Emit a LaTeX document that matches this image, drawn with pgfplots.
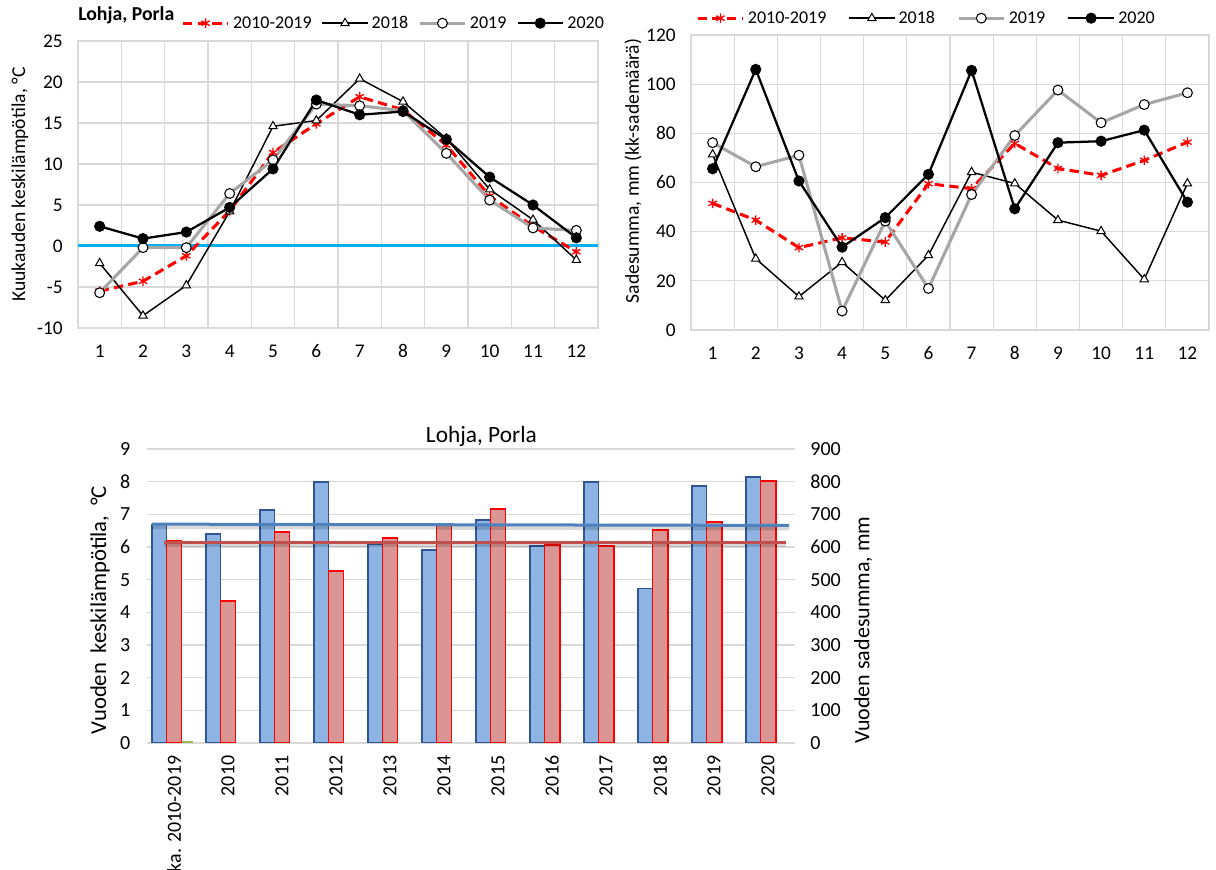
\documentclass[border=0pt]{standalone}
\usepackage{fontspec}
\setmainfont{Carlito}
\usepackage{pgfplots}
\pgfplotsset{compat=1.18}
\definecolor{gridgray}{HTML}{D9D9D9}
\definecolor{serred}{HTML}{FF0000}
\definecolor{sergray}{HTML}{A6A6A6}
\definecolor{zerocyan}{HTML}{00B0F0}
\definecolor{barblue}{HTML}{8EB4E3}
\definecolor{barblueedge}{HTML}{2F5597}
\definecolor{barred}{HTML}{D99694}
\definecolor{trendblue}{HTML}{4F81BD}
\definecolor{trendred}{HTML}{C0504D}
\definecolor{bargreen}{HTML}{9BBB59}
\pgfplotsset{
  monthly/.style={
    scale only axis, xmin=0.5, xmax=12.5, xtick={1,...,12},
    minor xtick={0.5,1.5,...,12.5}, xminorgrids, ymajorgrids,
    grid style={draw=gridgray, line width=0.8pt},
    minor grid style={draw=gridgray, line width=0.8pt},
    axis line style={draw=gridgray, line width=0.8pt},
    tick style={draw=none},
    tick label style={font=\fontsize{14.5}{17}\selectfont},
    /pgf/number format/assume math mode=true,
    xticklabel shift=9pt, yticklabel shift=8pt,
    legend columns=4,
    legend image code/.code={\draw[mark repeat=2,mark phase=2] plot coordinates {(0pt,0pt) (17pt,0pt) (34pt,0pt)};},
  },
  s1019/.style={serred, line width=2.3pt, dash pattern=on 7pt off 4pt, mark=asterisk, mark size=3.6pt, mark options={solid, line width=1pt}},
  s2018/.style={black, line width=1.1pt, mark=triangle*, mark size=3.6pt, mark options={solid, fill=white, draw=black, line width=0.75pt}},
  s2019/.style={sergray, line width=2.3pt, mark=*, mark size=3.7pt, mark options={solid, fill=white, draw=black, line width=0.8pt}},
  s2020/.style={black, line width=1.7pt, mark=*, mark size=3.3pt, mark options={solid, fill=black}},
}
\begin{document}
\begin{tikzpicture}
\path[use as bounding box] (0,0) rectangle (912pt,652.5pt);

% ---------- top left: monthly temperature ----------
\begin{axis}[monthly,
  at={(58.5pt,406.5pt)}, anchor=south west, width=390pt, height=215.25pt,
  ymin=-10, ymax=25, ytick={-10,-5,...,25},
  ylabel={Kuukauden keskilämpötila, °C},
  every axis y label/.style={at={(axis description cs:-0.1115,0.5)}, rotate=90, anchor=center, font=\fontsize{14.7}{17}\selectfont},
  title={Lohja, Porla},
  every axis title/.style={at={(axis description cs:0,1.0906)}, anchor=west, inner sep=0pt, font=\bfseries\fontsize{14.8}{17}\selectfont},
  legend style={at={(axis description cs:0.607,1.062)}, anchor=center, draw=none, fill=none,
    font=\fontsize{13.5}{16}\selectfont, inner sep=0pt, nodes={inner sep=1.5pt},
    /tikz/every odd column/.append style={column sep=1pt},
    /tikz/every even column/.append style={column sep=6pt}},
]
\addplot[zerocyan, line width=2.25pt, forget plot] coordinates {(0.5,0) (12.5,0)};
\addplot[s1019] coordinates {(1,-5.5) (2,-4.3) (3,-1.2) (4,4.3) (5,11.4) (6,14.9) (7,18.2) (8,16.6) (9,12.3) (10,6.1) (11,2.4) (12,-0.7)};
\addlegendentry{2010-2019}
\addplot[s2018] coordinates {(1,-2.1) (2,-8.5) (3,-4.8) (4,4.2) (5,14.6) (6,15.3) (7,20.4) (8,17.6) (9,13.1) (10,6.9) (11,3.2) (12,-1.7)};
\addlegendentry{2018}
\addplot[s2019] coordinates {(1,-5.7) (2,-0.2) (3,-0.2) (4,6.4) (5,10.5) (6,17.3) (7,17.1) (8,16.5) (9,11.3) (10,5.6) (11,2.2) (12,1.9)};
\addlegendentry{2019}
\addplot[s2020] coordinates {(1,2.4) (2,0.9) (3,1.7) (4,4.7) (5,9.4) (6,17.8) (7,16.0) (8,16.4) (9,13.0) (10,8.4) (11,5.0) (12,1.0)};
\addlegendentry{2020}
\end{axis}

% ---------- top right: monthly precipitation ----------
\begin{axis}[monthly,
  at={(518.25pt,405pt)}, anchor=south west, width=388.5pt, height=221.25pt,
  ymin=0, ymax=120, ytick={0,20,...,120},
  ylabel={Sadesumma, mm (kk-sademäärä)},
  every axis y label/.style={at={(axis description cs:-0.112,0.539)}, rotate=90, anchor=center, font=\fontsize{14.7}{17}\selectfont},
  legend style={at={(axis description cs:0.4546,1.057)}, anchor=center, draw=none, fill=none,
    font=\fontsize{13.5}{16}\selectfont, inner sep=0pt, nodes={inner sep=1.5pt},
    /tikz/every odd column/.append style={column sep=1pt},
    /tikz/every even column/.append style={column sep=15pt}},
]
\addplot[s1019] coordinates {(1,51.5) (2,44.7) (3,33.5) (4,37.5) (5,35.8) (6,59.5) (7,57.5) (8,75.9) (9,65.7) (10,62.9) (11,69.0) (12,76.4)};
\addlegendentry{2010-2019}
\addplot[s2018] coordinates {(1,71.4) (2,29.0) (3,13.6) (4,27.6) (5,12.1) (6,30.4) (7,64.2) (8,59.6) (9,44.7) (10,40.2) (11,20.6) (12,59.6)};
\addlegendentry{2018}
\addplot[s2019] coordinates {(1,76.2) (2,66.4) (3,71.1) (4,7.7) (5,44.3) (6,16.9) (7,55.1) (8,79.1) (9,97.6) (10,84.3) (11,91.7) (12,96.5)};
\addlegendentry{2019}
\addplot[s2020] coordinates {(1,65.6) (2,106.0) (3,60.6) (4,33.7) (5,45.7) (6,63.3) (7,105.6) (8,49.3) (9,76.2) (10,76.8) (11,81.3) (12,52.0)};
\addlegendentry{2020}
\end{axis}

% ---------- bottom: annual values, left axis ----------
\begin{axis}[scale only axis,
  at={(110.25pt,95.25pt)}, anchor=south west, width=486pt, height=220.5pt,
  xmin=-0.5, xmax=11.5, ymin=0, ymax=9,
  xtick={0,...,11},
  xticklabels={ka. 2010-2019,2010,2011,2012,2013,2014,2015,2016,2017,2018,2019,2020},
  ytick={0,...,9}, ymajorgrids, grid style={draw=gridgray, line width=0.8pt},
  axis line style={draw=none}, tick style={draw=none},
  /pgf/number format/assume math mode=true,
  tick label style={font=\fontsize{15}{17}\selectfont},
  xticklabel style={rotate=90, anchor=east}, xticklabel shift=6pt, yticklabel shift=9pt,
  ylabel={Vuoden\hspace{0.2em} keskilämpötila,\hspace{0.2em} °C},
  every axis y label/.style={at={(axis description cs:-0.0725,0.452)}, rotate=90, anchor=center, font=\fontsize{17}{20}\selectfont},
  title={Lohja, Porla},
  every axis title/.style={at={(axis description cs:0.516,1)}, anchor=center, yshift=9.75pt, font=\fontsize{17.5}{20}\selectfont},
]
\addplot[ybar, bar width=0.26, bar shift=-0.27, fill=barblue, draw=barblueedge, line width=1.4pt] coordinates {(0,6.69) (1,6.39) (2,7.13) (3,8.00) (4,6.08) (5,5.91) (6,6.83) (7,6.04) (8,8.00) (9,4.73) (10,7.87) (11,8.15)};
\addplot[ybar, bar width=0.22, bar shift=0.25, fill=bargreen, draw=none] coordinates {(0,0.07)};
\end{axis}

% ---------- bottom: annual values, right axis ----------
\begin{axis}[scale only axis,
  at={(110.25pt,95.25pt)}, anchor=south west, width=486pt, height=220.5pt,
  xmin=-0.5, xmax=11.5, ymin=0, ymax=900, ytick={0,100,...,900},
  axis y line*=right, hide x axis, axis line style={draw=none}, tick style={draw=none},
  /pgf/number format/assume math mode=true,
  tick label style={font=\fontsize{15}{17}\selectfont},
  yticklabel shift=8pt,
  ylabel={Vuoden sadesumma, mm},
  every axis y label/.style={at={(axis description cs:1.105,0.384)}, rotate=90, anchor=center, font=\fontsize{16.5}{19}\selectfont},
]
\addplot[ybar, bar width=0.28, bar shift=0, fill=barred, draw=serred, line width=1.4pt] coordinates {(0,618) (1,436) (2,647) (3,526) (4,627) (5,672) (6,716) (7,606) (8,604) (9,652) (10,677) (11,803)};
\addplot[black, opacity=0.15, line width=3.5pt, yshift=-2pt] coordinates {(-0.41,670) (11.39,666)};
\addplot[black, opacity=0.15, line width=3.5pt, yshift=-2pt] coordinates {(-0.19,614) (11.33,614)};
\addplot[trendblue, line width=2.25pt] coordinates {(-0.41,670) (11.39,666)};
\addplot[trendred, line width=2.25pt] coordinates {(-0.19,614) (11.33,614)};
\end{axis}
\end{tikzpicture}
\end{document}
